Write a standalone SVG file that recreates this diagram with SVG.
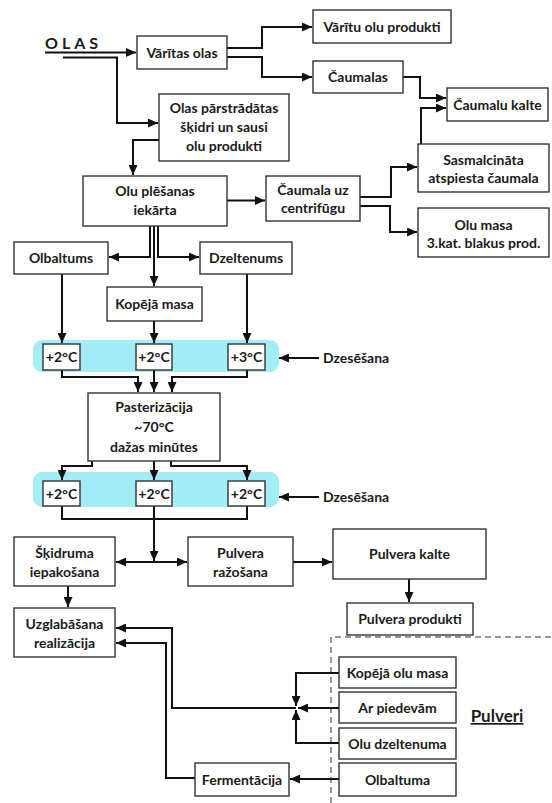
<svg xmlns="http://www.w3.org/2000/svg" width="552" height="803" viewBox="0 0 552 803">
<defs>
<marker id="ah" markerUnits="userSpaceOnUse" markerWidth="11" markerHeight="9" refX="10" refY="4.5" orient="auto"><path d="M0,0 L10,4.5 L0,9 z" fill="#111"/></marker>
<style>
.b{fill:#fff;stroke:#333;stroke-width:1.4}
.t{font-family:Lato,"Open Sans","Liberation Sans",sans-serif;font-weight:bold;font-size:14px;fill:#1a1a1a;text-anchor:middle}
.c{fill:none;stroke:#111;stroke-width:2;marker-end:url(#ah)}
.l{fill:none;stroke:#111;stroke-width:2}
.band{fill:#a3edf6}
</style>
</defs>
<rect width="552" height="803" fill="#fff"/>
<g id="bands">
<rect class="band" x="33" y="340" width="246" height="32" rx="9"/>
<rect class="band" x="33" y="472" width="246" height="35" rx="9"/>
</g>
<g id="dashed"><path d="M331,803 V637 H552" fill="none" stroke="#777" stroke-width="1.5" stroke-dasharray="6,4"/></g>
<g id="connectors">
<path class="c" d="M45,52.5 H136"/>
<path class="c" d="M63,57.5 H117 V123 H158"/>
<path class="c" d="M227,48 H262 V27 H312"/>
<path class="c" d="M227,57 H262 V77 H312"/>
<path class="c" d="M403,77 H420 V98 H446"/>
<path class="c" d="M421,144 V108 H446"/>
<path class="c" d="M159,140 H133 V175"/>
<path class="c" d="M227,200.5 H265"/>
<path class="c" d="M360,197 H391 V167 H417"/>
<path class="c" d="M360,206 H390 V232 H417"/>
<path class="c" d="M150,226 V257 H109"/>
<path class="c" d="M154,226 V286"/>
<path class="c" d="M158,226 V257 H199"/>
<path class="c" d="M62,274 V343"/>
<path class="c" d="M154,321 V343"/>
<path class="c" d="M247,274 V343"/>
<path class="c" d="M62,370 V377 H138 V392"/>
<path class="c" d="M154,370 V392"/>
<path class="c" d="M247,370 V377 H172 V392"/>
<path class="c" d="M319,358 H279"/>
<path class="c" d="M92,461 V466 H62 V480"/>
<path class="c" d="M154,461 V480"/>
<path class="c" d="M171,461 V466 H247 V480"/>
<path class="c" d="M319,497 H279"/>
<path class="l" d="M62,506 V519 H247 V506"/>
<path class="c" d="M154,506 V561"/>
<path class="c" d="M154,562 H116"/>
<path class="c" d="M154,562 H187"/>
<path class="c" d="M293,562 H332"/>
<path class="c" d="M409,579 V602"/>
<path class="c" d="M68,586 V607"/>
<path class="c" d="M339,673 H296 V706"/>
<path class="c" d="M339,708 H298"/>
<path class="c" d="M339,743 H296 V710"/>
<path class="c" d="M296,708 H172 V628 H116"/>
<path class="c" d="M195,778 H166 V643 H116"/>
<path class="c" d="M339,779 H290"/>
</g>
<g id="olas"><text x="45" y="49" class="t" style="text-anchor:start;font-size:16px;letter-spacing:4px">OLAS</text></g>
<g id="varitas"><rect class="b" x="137" y="36" width="90" height="33"/><text class="t" x="182" y="57.5">Vārītas olas</text></g>
<g id="varitu"><rect class="b" x="313" y="10" width="138" height="33"/><text class="t" x="382" y="31.5">Vārītu olu produkti</text></g>
<g id="caumalas"><rect class="b" x="313" y="61" width="90" height="32"/><text class="t" x="358" y="82">Čaumalas</text></g>
<g id="caumalu_kalte"><rect class="b" x="447" y="88" width="101" height="33"/><text class="t" x="497.5" y="109.5">Čaumalu kalte</text></g>
<g id="parstradatas"><rect class="b" x="159" y="94" width="130" height="67"/><text class="t" x="224" y="112.5">Olas pārstrādātas</text><text class="t" x="224" y="131.5">šķidri un sausi</text><text class="t" x="224" y="150.5">olu produkti</text></g>
<g id="plesanas"><rect class="b" x="83" y="176" width="144" height="50"/><text class="t" x="155" y="196">Olu plēšanas</text><text class="t" x="155" y="215">iekārta</text></g>
<g id="centrifugu"><rect class="b" x="266" y="176" width="94" height="45"/><text class="t" x="313" y="195">Čaumala uz</text><text class="t" x="313" y="213">centrifūgu</text></g>
<g id="sasmalcinata"><rect class="b" x="418" y="144" width="131" height="48"/><text class="t" x="483.5" y="165">Sasmalcināta</text><text class="t" x="483.5" y="183">atspiesta čaumala</text></g>
<g id="olu_masa"><rect class="b" x="418" y="208" width="131" height="49"/><text class="t" x="483.5" y="230">Olu masa</text><text class="t" x="483.5" y="248">3.kat. blakus prod.</text></g>
<g id="olbaltums"><rect class="b" x="14" y="242" width="94" height="32"/><text class="t" x="61" y="263">Olbaltums</text></g>
<g id="dzeltenums"><rect class="b" x="200" y="242" width="92" height="32"/><text class="t" x="246" y="263">Dzeltenums</text></g>
<g id="kopeja"><rect class="b" x="107" y="287" width="95" height="34"/><text class="t" x="154.5" y="309">Kopējā masa</text></g>
<g id="t1a"><rect class="b" x="43" y="344" width="37" height="26"/><text class="t" x="61.5" y="362">+2°C</text></g>
<g id="t1b"><rect class="b" x="136" y="344" width="36" height="26"/><text class="t" x="154" y="362">+2°C</text></g>
<g id="t1c"><rect class="b" x="228" y="344" width="37" height="26"/><text class="t" x="246.5" y="362">+3°C</text></g>
<g id="dzes1"><text class="t" x="323" y="363" style="text-anchor:start">Dzesēšana</text></g>
<g id="pasterizacija"><rect class="b" x="88" y="393" width="132" height="68"/><text class="t" x="154" y="412">Pasterizācija</text><text class="t" x="154" y="432">~70°C</text><text class="t" x="154" y="452">dažas minūtes</text></g>
<g id="t2a"><rect class="b" x="43" y="481" width="37" height="25"/><text class="t" x="61.5" y="498.5">+2°C</text></g>
<g id="t2b"><rect class="b" x="136" y="481" width="36" height="25"/><text class="t" x="154" y="498.5">+2°C</text></g>
<g id="t2c"><rect class="b" x="228" y="481" width="37" height="25"/><text class="t" x="246.5" y="498.5">+2°C</text></g>
<g id="dzes2"><text class="t" x="323" y="502" style="text-anchor:start">Dzesēšana</text></g>
<g id="skidruma"><rect class="b" x="14" y="537" width="101" height="49"/><text class="t" x="64.5" y="558">Šķidruma</text><text class="t" x="64.5" y="577">iepakošana</text></g>
<g id="pulv_razosana"><rect class="b" x="188" y="537" width="105" height="49"/><text class="t" x="240.5" y="558">Pulvera</text><text class="t" x="240.5" y="577">ražošana</text></g>
<g id="pulv_kalte"><rect class="b" x="333" y="529" width="153" height="50"/><text class="t" x="409.5" y="559">Pulvera kalte</text></g>
<g id="pulv_produkti"><rect class="b" x="347" y="603" width="126" height="32"/><text class="t" x="410" y="624">Pulvera produkti</text></g>
<g id="uzglabasana"><rect class="b" x="14" y="608" width="101" height="49"/><text class="t" x="64.5" y="629">Uzglabāšana</text><text class="t" x="64.5" y="648">realizācija</text></g>
<g id="kopeja_olu"><rect class="b" x="339" y="657" width="117" height="31"/><text class="t" x="397.5" y="677.5">Kopējā olu masa</text></g>
<g id="ar_piedevam"><rect class="b" x="339" y="692" width="117" height="31"/><text class="t" x="397.5" y="712.5">Ar piedevām</text></g>
<g id="olu_dzeltenuma"><rect class="b" x="339" y="728" width="117" height="31"/><text class="t" x="397.5" y="748.5">Olu dzeltenuma</text></g>
<g id="olbaltuma"><rect class="b" x="339" y="763" width="117" height="33"/><text class="t" x="397.5" y="784.5">Olbaltuma</text></g>
<g id="fermentacija"><rect class="b" x="195" y="763" width="94" height="33"/><text class="t" x="242" y="784.5">Fermentācija</text></g>
<g id="pulveri"><text class="t" x="497" y="722" style="font-size:17px;text-decoration:underline">Pulveri</text></g>
</svg>
